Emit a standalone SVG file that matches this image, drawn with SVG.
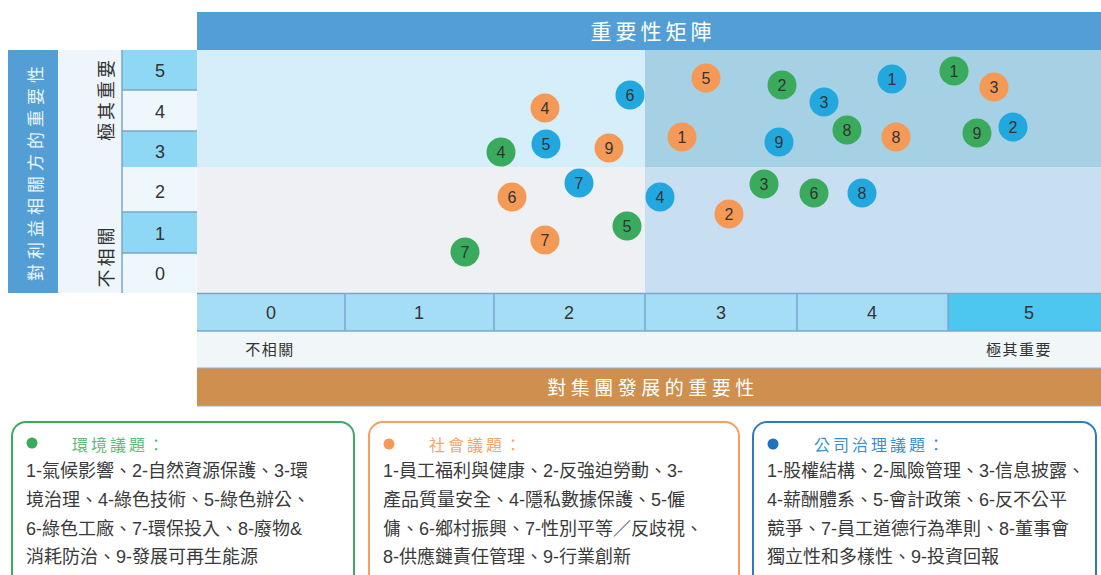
<svg xmlns="http://www.w3.org/2000/svg" width="1101" height="575" viewBox="0 0 1101 575">
<style>
.cjk{font-family:"Liberation Sans","Noto Sans CJK TC",sans-serif}
.num{font-family:"Liberation Sans","Noto Sans CJK TC",sans-serif;font-size:18px;fill:#333;text-anchor:middle}
.bub text{font-family:"Liberation Sans",sans-serif;font-size:16px;fill:#333;text-anchor:middle}
.g{fill:#3aaa5c}.o{fill:#f59a56}.b{fill:#22a8df}
.sep{stroke:#7ba6cf;stroke-width:1.5}
.leg{font-family:"Liberation Sans","Noto Sans CJK TC",sans-serif;font-size:18px;fill:#3a3a3a}
.lt{font-family:"Noto Sans CJK TC",sans-serif;font-size:16px;letter-spacing:3px}
</style>
<rect width="1101" height="575" fill="#fff"/>
<g id="title">
<rect x="197" y="12" width="904" height="38" fill="#539fd5"/>
<text x="653" y="39" class="cjk" font-size="21" fill="#fff" text-anchor="middle" letter-spacing="4">重要性矩陣</text>
</g>
<g id="y-axis">
<rect x="8" y="50" width="50" height="243" fill="#539fd5"/>
<text transform="translate(42,171) rotate(-90)" class="cjk" font-size="17" fill="#eaf4fb" text-anchor="middle" letter-spacing="5">對利益相關方的重要性</text>
<rect x="58" y="50" width="64" height="243" fill="#eef6fb"/>
<text transform="translate(113,99) rotate(-90)" class="cjk" font-size="18" fill="#333" text-anchor="middle" letter-spacing="3">極其重要</text>
<text transform="translate(113,256) rotate(-90)" class="cjk" font-size="18" fill="#333" text-anchor="middle" letter-spacing="3">不相關</text>
<rect x="122" y="50" width="75" height="40" fill="#8ed8f5"/>
<rect x="122" y="90" width="75" height="41" fill="#eef7fc"/>
<rect x="122" y="131" width="75" height="36" fill="#8ed8f5"/>
<rect x="122" y="167" width="75" height="45" fill="#eef7fc"/>
<rect x="122" y="212" width="75" height="41" fill="#8ed8f5"/>
<rect x="122" y="253" width="75" height="40" fill="#eef7fc"/>
<line class="sep" x1="122" y1="90" x2="197" y2="90"/>
<line class="sep" x1="122" y1="131" x2="197" y2="131"/>
<line class="sep" x1="122" y1="212" x2="197" y2="212"/>
<line class="sep" x1="122" y1="253" x2="197" y2="253"/>
<line class="sep" x1="122" y1="50" x2="122" y2="293"/>
<text class="num" x="160" y="77">5</text>
<text class="num" x="160" y="118">4</text>
<text class="num" x="160" y="158">3</text>
<text class="num" x="160" y="198">2</text>
<text class="num" x="160" y="240">1</text>
<text class="num" x="160" y="280">0</text>
</g>
<g id="matrix">
<rect x="197" y="50" width="448" height="117" fill="#d6eef9"/>
<rect x="645" y="50" width="456" height="117" fill="#a6d0e4"/>
<rect x="197" y="167" width="448" height="126" fill="#eef0f3"/>
<rect x="645" y="167" width="456" height="126" fill="#c8dff2"/>
</g>
<g id="x-axis">
<rect x="197" y="293" width="751" height="38" fill="#a6ddf6"/>
<rect x="948" y="293" width="153" height="38" fill="#4dc7f0"/>
<line class="sep" x1="197" y1="293.5" x2="1101" y2="293.5"/>
<line class="sep" x1="197" y1="331" x2="1101" y2="331"/>
<line class="sep" x1="345" y1="293" x2="345" y2="331"/>
<line class="sep" x1="494" y1="293" x2="494" y2="331"/>
<line class="sep" x1="645" y1="293" x2="645" y2="331"/>
<line class="sep" x1="797" y1="293" x2="797" y2="331"/>
<line class="sep" x1="948" y1="293" x2="948" y2="331"/>
<text class="num" x="271" y="319">0</text>
<text class="num" x="419" y="319">1</text>
<text class="num" x="569" y="319">2</text>
<text class="num" x="721" y="319">3</text>
<text class="num" x="872" y="319">4</text>
<text class="num" x="1029" y="319">5</text>
<rect x="197" y="332" width="904" height="36" fill="#f1f6f8"/>
<text x="270" y="355" class="cjk" font-size="15" fill="#333" text-anchor="middle" letter-spacing="1.5">不相關</text>
<text x="1019" y="355" class="cjk" font-size="15" fill="#333" text-anchor="middle" letter-spacing="1.5">極其重要</text>
<rect x="197" y="368" width="904" height="38" fill="#cf8f4e"/>
<line x1="197" y1="368" x2="1101" y2="368" stroke="#8fb3d3" stroke-width="1"/>
<line x1="197" y1="406" x2="1101" y2="406" stroke="#8fb3d3" stroke-width="1"/>
<text x="653" y="395" class="cjk" font-size="19" fill="#fff" text-anchor="middle" letter-spacing="4.5">對集團發展的重要性</text>
</g>
<g class="bub">
<g id="o5"><circle class="o" cx="706" cy="78" r="14.5"/><text x="706" y="84">5</text></g>
<g id="b6"><circle class="b" cx="630" cy="95" r="14.5"/><text x="630" y="101">6</text></g>
<g id="o4"><circle class="o" cx="545" cy="108" r="14.5"/><text x="545" y="114">4</text></g>
<g id="o1"><circle class="o" cx="682" cy="137" r="14.5"/><text x="682" y="143">1</text></g>
<g id="b5"><circle class="b" cx="546" cy="144" r="14.5"/><text x="546" y="150">5</text></g>
<g id="o9"><circle class="o" cx="609" cy="148" r="14.5"/><text x="609" y="154">9</text></g>
<g id="g4"><circle class="g" cx="501" cy="152" r="14.5"/><text x="501" y="158">4</text></g>
<g id="b7"><circle class="b" cx="579" cy="183" r="14.5"/><text x="579" y="189">7</text></g>
<g id="o6"><circle class="o" cx="512" cy="197" r="14.5"/><text x="512" y="203">6</text></g>
<g id="b4"><circle class="b" cx="660" cy="197" r="14.5"/><text x="660" y="203">4</text></g>
<g id="o2"><circle class="o" cx="729" cy="214" r="14.5"/><text x="729" y="220">2</text></g>
<g id="g5"><circle class="g" cx="627" cy="226" r="14.5"/><text x="627" y="232">5</text></g>
<g id="o7"><circle class="o" cx="545" cy="240" r="14.5"/><text x="545" y="246">7</text></g>
<g id="g7"><circle class="g" cx="465" cy="252" r="14.5"/><text x="465" y="258">7</text></g>
<g id="g2"><circle class="g" cx="782" cy="85" r="14.5"/><text x="782" y="91">2</text></g>
<g id="b3"><circle class="b" cx="824" cy="102" r="14.5"/><text x="824" y="108">3</text></g>
<g id="b1"><circle class="b" cx="892" cy="79" r="14.5"/><text x="892" y="85">1</text></g>
<g id="g1"><circle class="g" cx="954" cy="71" r="14.5"/><text x="954" y="77">1</text></g>
<g id="o3"><circle class="o" cx="994" cy="87" r="14.5"/><text x="994" y="93">3</text></g>
<g id="b9"><circle class="b" cx="779" cy="142" r="14.5"/><text x="779" y="148">9</text></g>
<g id="g8"><circle class="g" cx="847" cy="130" r="14.5"/><text x="847" y="136">8</text></g>
<g id="o8"><circle class="o" cx="896" cy="137" r="14.5"/><text x="896" y="143">8</text></g>
<g id="g9"><circle class="g" cx="977" cy="133" r="14.5"/><text x="977" y="139">9</text></g>
<g id="b2"><circle class="b" cx="1013" cy="127" r="14.5"/><text x="1013" y="133">2</text></g>
<g id="g3"><circle class="g" cx="764" cy="184" r="14.5"/><text x="764" y="190">3</text></g>
<g id="g6"><circle class="g" cx="814" cy="193" r="14.5"/><text x="814" y="199">6</text></g>
<g id="b8"><circle class="b" cx="862" cy="193" r="14.5"/><text x="862" y="199">8</text></g>
</g>
<g id="legend-env">
<rect x="12" y="422" width="342" height="175" rx="14" fill="#fff" stroke="#3daa5e" stroke-width="2"/>
<circle cx="32" cy="443" r="5.5" fill="#3aaa5c"/>
<text x="72" y="451" class="lt" fill="#5dbb74">環境議題：</text>
<text class="leg" x="26" y="477">1-氣候影響、2-自然資源保護、3-環</text>
<text class="leg" x="26" y="506">境治理、4-綠色技術、5-綠色辦公、</text>
<text class="leg" x="26" y="535">6-綠色工廠、7-環保投入、8-廢物&amp;</text>
<text class="leg" x="26" y="563">消耗防治、9-發展可再生能源</text>
</g>
<g id="legend-soc">
<rect x="369" y="422" width="370" height="175" rx="14" fill="#fff" stroke="#f5a05e" stroke-width="2"/>
<circle cx="389" cy="444" r="5.5" fill="#f59a56"/>
<text x="429" y="451" class="lt" fill="#f5a467">社會議題：</text>
<text class="leg" x="383" y="477">1-員工福利與健康、2-反強迫勞動、3-</text>
<text class="leg" x="383" y="506">產品質量安全、4-隱私數據保護、5-僱</text>
<text class="leg" x="383" y="535">傭、6-鄉村振興、7-性別平等／反歧視、</text>
<text class="leg" x="383" y="563">8-供應鏈責任管理、9-行業創新</text>
</g>
<g id="legend-gov">
<rect x="753" y="422" width="343" height="175" rx="14" fill="#fff" stroke="#2e7cc0" stroke-width="2"/>
<circle cx="773" cy="444" r="5.5" fill="#1f72be"/>
<text x="814" y="451" class="lt" fill="#3b8fd0">公司治理議題：</text>
<text class="leg" x="767" y="477">1-股權結構、2-風險管理、3-信息披露、</text>
<text class="leg" x="767" y="506">4-薪酬體系、5-會計政策、6-反不公平</text>
<text class="leg" x="767" y="535">競爭、7-員工道德行為準則、8-董事會</text>
<text class="leg" x="767" y="563">獨立性和多樣性、9-投資回報</text>
</g>
</svg>
